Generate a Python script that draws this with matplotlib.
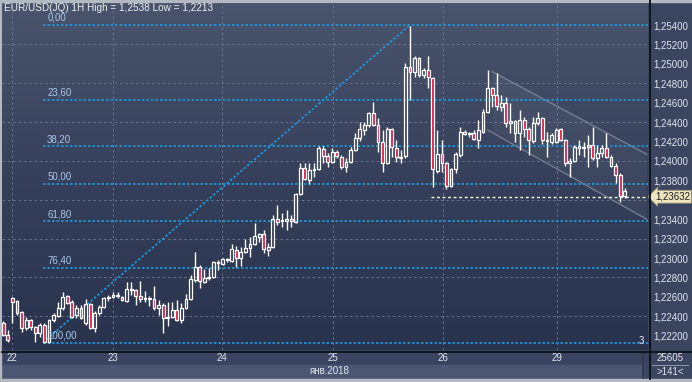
import matplotlib.pyplot as plt
import numpy as np
from matplotlib.colors import LinearSegmentedColormap
from matplotlib.patches import Rectangle
from matplotlib.lines import Line2D
from matplotlib.transforms import blended_transform_factory

# EUR/USD hourly candles, 22-29 Jan 2018
opens = [1.2233, 1.2221, 1.2259, 1.2256, 1.2244, 1.2228, 1.2236, 1.2229, 1.2223, 1.2231,
         1.2214, 1.2236, 1.2240, 1.2249, 1.2261, 1.2255, 1.2241, 1.2249, 1.2233, 1.2253,
         1.2228, 1.2243, 1.2250, 1.2259, 1.2260, 1.2261, 1.2260, 1.2256, 1.2267, 1.2267,
         1.2261, 1.2258, 1.2258, 1.2258, 1.2249, 1.2252, 1.2238, 1.2239, 1.2247, 1.2236,
         1.2249, 1.2258, 1.2277, 1.2291, 1.2275, 1.2279, 1.2280, 1.2296, 1.2294, 1.2299,
         1.2297, 1.2308, 1.2300, 1.2306, 1.2310, 1.2315, 1.2322, 1.2325, 1.2308, 1.2311,
         1.2340, 1.2338, 1.2338, 1.2340, 1.2337, 1.2366, 1.2393, 1.2380, 1.2391, 1.2392,
         1.2412, 1.2405, 1.2399, 1.2409, 1.2404, 1.2394, 1.2399, 1.2411, 1.2424, 1.2432,
         1.2437, 1.2449, 1.2437, 1.2420, 1.2398, 1.2433, 1.2413, 1.2404, 1.2405, 1.2497,
         1.2492, 1.2506, 1.2489, 1.2494, 1.2485, 1.2390, 1.2407, 1.2398, 1.2374, 1.2392,
         1.2406, 1.2430, 1.2428, 1.2429, 1.2422, 1.2430, 1.2450, 1.2475, 1.2468, 1.2456,
         1.2460, 1.2439, 1.2441, 1.2429, 1.2442, 1.2433, 1.2421, 1.2439, 1.2444, 1.2422,
         1.2420, 1.2420, 1.2433, 1.2422, 1.2398, 1.2400, 1.2415, 1.2413, 1.2414, 1.2416,
         1.2403, 1.2408, 1.2413, 1.2404, 1.2395, 1.2386, 1.2364]
highs = [1.2235, 1.2226, 1.2260, 1.2257, 1.2245, 1.2239, 1.2237, 1.2230, 1.2233, 1.2233,
         1.2237, 1.2243, 1.2255, 1.2265, 1.2262, 1.2257, 1.2252, 1.2252, 1.2258, 1.2254,
         1.2245, 1.2252, 1.2260, 1.2262, 1.2265, 1.2265, 1.2261, 1.2275, 1.2275, 1.2268,
         1.2276, 1.2266, 1.2261, 1.2271, 1.2257, 1.2254, 1.2255, 1.2255, 1.2257, 1.2254,
         1.2263, 1.2283, 1.2306, 1.2293, 1.2289, 1.2290, 1.2297, 1.2298, 1.2300, 1.2300,
         1.2315, 1.2312, 1.2311, 1.2320, 1.2322, 1.2336, 1.2326, 1.2329, 1.2316, 1.2344,
         1.2355, 1.2346, 1.2349, 1.2344, 1.2367, 1.2398, 1.2398, 1.2398, 1.2398, 1.2415,
         1.2415, 1.2408, 1.2413, 1.2411, 1.2406, 1.2403, 1.2414, 1.2429, 1.2440, 1.2440,
         1.2450, 1.2461, 1.2444, 1.2432, 1.2435, 1.2434, 1.2422, 1.2411, 1.2501, 1.2539,
         1.2508, 1.2507, 1.2496, 1.2508, 1.2486, 1.2432, 1.2422, 1.2399, 1.2393, 1.2409,
         1.2435, 1.2432, 1.2430, 1.2432, 1.2442, 1.2454, 1.2494, 1.2476, 1.2491, 1.2468,
         1.2466, 1.2460, 1.2442, 1.2452, 1.2445, 1.2435, 1.2445, 1.2450, 1.2445, 1.2430,
         1.2429, 1.2434, 1.2434, 1.2423, 1.2403, 1.2416, 1.2422, 1.2420, 1.2427, 1.2435,
         1.2416, 1.2416, 1.2429, 1.2406, 1.2398, 1.2388, 1.2372]
lows = [1.2220, 1.2214, 1.2233, 1.2241, 1.2224, 1.2226, 1.2226, 1.2214, 1.2219, 1.2213,
        1.2213, 1.2234, 1.2239, 1.2247, 1.2253, 1.2238, 1.2238, 1.2237, 1.2231, 1.2227,
        1.2224, 1.2241, 1.2249, 1.2256, 1.2259, 1.2259, 1.2256, 1.2255, 1.2262, 1.2252,
        1.2255, 1.2255, 1.2251, 1.2247, 1.2241, 1.2223, 1.2230, 1.2238, 1.2235, 1.2233,
        1.2248, 1.2257, 1.2275, 1.2269, 1.2274, 1.2277, 1.2279, 1.2288, 1.2293, 1.2296,
        1.2296, 1.2291, 1.2292, 1.2305, 1.2301, 1.2313, 1.2317, 1.2305, 1.2302, 1.2310,
        1.2334, 1.2332, 1.2329, 1.2332, 1.2336, 1.2365, 1.2380, 1.2376, 1.2383, 1.2391,
        1.2398, 1.2394, 1.2398, 1.2403, 1.2392, 1.2389, 1.2398, 1.2410, 1.2421, 1.2427,
        1.2435, 1.2436, 1.2409, 1.2389, 1.2397, 1.2404, 1.2399, 1.2398, 1.2403, 1.2463,
        1.2486, 1.2487, 1.2485, 1.2475, 1.2373, 1.2388, 1.2389, 1.2371, 1.2373, 1.2388,
        1.2404, 1.2427, 1.2425, 1.2422, 1.2413, 1.2429, 1.2449, 1.2456, 1.2453, 1.2451,
        1.2435, 1.2429, 1.2420, 1.2411, 1.2425, 1.2406, 1.2419, 1.2437, 1.2417, 1.2404,
        1.2418, 1.2419, 1.2421, 1.2395, 1.2383, 1.2399, 1.2406, 1.2404, 1.2394, 1.2401,
        1.2394, 1.2404, 1.2403, 1.2394, 1.2377, 1.2358, 1.2362]
closes = [1.2221, 1.2216, 1.2255, 1.2243, 1.2228, 1.2236, 1.2229, 1.2223, 1.2231, 1.2214,
          1.2236, 1.2241, 1.2249, 1.2260, 1.2254, 1.2239, 1.2249, 1.2238, 1.2253, 1.2228,
          1.2243, 1.2250, 1.2259, 1.2260, 1.2262, 1.2262, 1.2257, 1.2268, 1.2268, 1.2261,
          1.2258, 1.2259, 1.2259, 1.2249, 1.2252, 1.2238, 1.2239, 1.2247, 1.2236, 1.2249,
          1.2258, 1.2278, 1.2291, 1.2276, 1.2279, 1.2280, 1.2296, 1.2295, 1.2299, 1.2298,
          1.2309, 1.2300, 1.2306, 1.2310, 1.2315, 1.2323, 1.2325, 1.2309, 1.2311, 1.2340,
          1.2337, 1.2339, 1.2340, 1.2338, 1.2366, 1.2393, 1.2381, 1.2391, 1.2392, 1.2413,
          1.2405, 1.2399, 1.2409, 1.2405, 1.2394, 1.2399, 1.2411, 1.2424, 1.2433, 1.2437,
          1.2449, 1.2437, 1.2420, 1.2398, 1.2433, 1.2414, 1.2404, 1.2403, 1.2497, 1.2492,
          1.2506, 1.2489, 1.2494, 1.2486, 1.2392, 1.2407, 1.2398, 1.2374, 1.2392, 1.2407,
          1.2430, 1.2428, 1.2429, 1.2423, 1.2432, 1.2450, 1.2475, 1.2468, 1.2457, 1.2460,
          1.2439, 1.2441, 1.2429, 1.2442, 1.2433, 1.2422, 1.2439, 1.2444, 1.2422, 1.2421,
          1.2427, 1.2432, 1.2422, 1.2398, 1.2400, 1.2414, 1.2413, 1.2414, 1.2416, 1.2403,
          1.2408, 1.2413, 1.2404, 1.2395, 1.2386, 1.2364, 1.2369]

day_pos = [1.9, 24.0, 47.9, 72.1, 96.2, 121.2]
day_labels = ["22", "23", "24", "25", "26", "29"]
price_ticks = [1.222, 1.224, 1.226, 1.228, 1.230, 1.232, 1.234, 1.236, 1.238,
               1.240, 1.242, 1.244, 1.246, 1.248, 1.250, 1.252, 1.254]
hidden_tick = 1.236   # covered by the price tag on the scale

# fibonacci retracement, drawn from the bar-9 low to the bar-89 high
fib_ratios = [0.0, 0.236, 0.382, 0.5, 0.618, 0.764, 1.0]
fib_labels = ["0,00", "23,60", "38,20", "50,00", "61,80", "76,40", "100,00"]
fib_high, fib_low = 1.2540, 1.2213
fib_bar_low, fib_bar_high = 9, 89

# descending channel and the horizontal line
chan_upper = ([107, 140.8], [1.2492, 1.2407])
chan_lower = ([106, 140.8], [1.2432, 1.2340])
hline_start = 93.5
last_price = 1.23632

W, H = 692, 382
fig = plt.figure(figsize=(W / 100, H / 100), dpi=100, facecolor="#3b4560")
plt.rcParams["font.family"] = ["Liberation Sans", "DejaVu Sans"]

def fx(x):
    return x / W

def fy(y):
    return 1 - y / H

ax = fig.add_axes([fx(2), fy(350), (648 - 2) / W, (350 - 4) / H])
xmin, xmax = -0.28, 141.1
ymin, ymax = 1.22053, 1.25617
ax.set_xlim(xmin, xmax)
ax.set_ylim(ymin, ymax)

# background gradient
cmap = LinearSegmentedColormap.from_list("bg", ["#2a334e", "#36405a", "#4a546d"])
grad = np.linspace(0, 1, 256).reshape(-1, 1)
ax.imshow(grad, extent=[xmin, xmax, ymin, ymax], origin="lower", aspect="auto",
          cmap=cmap, zorder=0)

for s in ax.spines.values():
    s.set_visible(False)

# grid
for v in price_ticks[1::2]:
    ax.axhline(v, color="#6c7590", lw=0.7, ls=(0, (2.5, 3)), zorder=1)
for d in day_pos:
    ax.axvline(d, color="#6c7590", lw=0.7, ls=(0, (2.5, 3)), zorder=1)

# channel
ax.fill_between(chan_upper[0], chan_upper[1], chan_lower[1],
                color="white", alpha=0.04, lw=0, zorder=1)
ax.plot(*chan_upper, color="#8d95a8", lw=1.0, alpha=0.7, zorder=2)
ax.plot(*chan_lower, color="#8d95a8", lw=1.0, alpha=0.7, zorder=2)

# fibonacci
fib_color = "#1e9be0"
fib_x0 = fib_bar_low - 0.3
for r, lab in zip(fib_ratios, fib_labels):
    lvl = fib_high - r * (fib_high - fib_low)
    ax.plot([fib_x0, xmax], [lvl, lvl], color=fib_color, lw=1.2,
            ls=(0, (1.5, 1.2)), zorder=2)
    ax.annotate(lab, (fib_x0 + 0.9, lvl), xytext=(0, 1.5), textcoords="offset points",
                color="#a9c8e8", fontsize=7, va="bottom", ha="left", zorder=6)
ax.plot([fib_x0, fib_bar_high], [fib_low, fib_high], color=fib_color, lw=1.2,
        ls=(0, (1.5, 1.2)), zorder=2)

# candles
idx = np.arange(len(opens))
o = np.array(opens)
c = np.array(closes)
h = np.array(highs)
l = np.array(lows)
top = np.maximum(o, c)
bot = np.minimum(o, c)
ax.vlines(idx, top, h, color="white", lw=1.0, zorder=3)
ax.vlines(idx, l, bot, color="white", lw=1.0, zorder=3)
up = c >= o
body_h = np.maximum(top - bot, 0.00002)
ax.bar(idx[up], body_h[up], bottom=bot[up], width=0.62, facecolor="none",
       edgecolor="white", lw=0.9, zorder=4)
ax.bar(idx[~up], body_h[~up], bottom=bot[~up], width=0.62, facecolor="#e3163f",
       edgecolor="white", lw=0.9, zorder=4)

# horizontal price line
ax.plot([hline_start, xmax], [last_price, last_price], color="white", lw=1.0,
        ls=(0, (2, 2)), zorder=5)

# axes ticks
ax.yaxis.tick_right()
ax.set_yticks(price_ticks)
ax.set_yticklabels(["" if abs(v - hidden_tick) < 1e-9 else f"{v:.5f}".replace(".", ",")
                    for v in price_ticks])
ax.tick_params(axis="y", length=0, pad=4, labelsize=7, labelcolor="#e2e6ee")
ax.set_xticks(day_pos)
ax.set_xticklabels(day_labels)
ax.tick_params(axis="x", length=0, pad=2.5, labelsize=7, labelcolor="#e2e6ee")

trans = blended_transform_factory(ax.transData, ax.transAxes)
ax.text(71.5, -0.062, "янв.2018", transform=trans, fontsize=7, color="#e2e6ee",
        ha="center", va="center")
ax.text(0.994, 0.012, "3", transform=ax.transAxes, fontsize=7, color="#e2e6ee",
        ha="right", va="bottom")

# price tag on the scale
ax.annotate("1,23632", (1.0, last_price), xycoords=("axes fraction", "data"),
            xytext=(5, 0), textcoords="offset points", fontsize=7, color="#1c1c1c",
            va="center", ha="left", annotation_clip=False, zorder=10,
            bbox=dict(boxstyle="larrow,pad=0.15", fc="#ece5c0", ec="#9a9070", lw=0.6))

# title
fig.text(fx(4), fy(8), "EUR/USD(JQ) 1H High = 1,2538 Low = 1,2213", fontsize=7.2,
         color="#eef0f4", ha="left", va="center")

# bottom strip and frame
fig.patches.append(Rectangle((fx(2), fy(365)), fx(646), 13 / H, transform=fig.transFigure,
                             color="#3a4460", zorder=-1))
fig.patches.append(Rectangle((fx(2), fy(378)), fx(641), 13 / H, transform=fig.transFigure,
                             color="#4b5672", zorder=-1))
fig.lines.append(Line2D([fx(643), fx(643)], [fy(352), fy(378)], transform=fig.transFigure,
                        color="#2e3548", lw=1.2))
fig.lines.append(Line2D([fx(649.5), fx(649.5)], [fy(0), fy(379)], transform=fig.transFigure,
                        color="#0d1018", lw=1.3))
fig.lines.append(Line2D([fx(2), fx(692)], [fy(351.5), fy(351.5)], transform=fig.transFigure,
                        color="#0d1018", lw=1.3))
fig.lines.append(Line2D([fx(652), fx(688)], [fy(365), fy(365)], transform=fig.transFigure,
                        color="#8a92a4", lw=0.8))
fig.text(fx(670), fy(358), "25605", fontsize=7, color="#e2e6ee", ha="center", va="center")
fig.text(fx(670), fy(372), ">141<", fontsize=7, color="#e2e6ee", ha="center", va="center")

# outer light border
fig.patches.append(Rectangle((0, 0), 1, 3 / H, transform=fig.transFigure,
                             color="#b4b8c0", zorder=-1))
fig.patches.append(Rectangle((0, 0), 1.5 / W, 1, transform=fig.transFigure,
                             color="#b4b8c0", zorder=-1))
fig.patches.append(Rectangle((0, 1 - 1.5 / H), 1, 1.5 / H, transform=fig.transFigure,
                             color="#b4b8c0", zorder=-1))

fig.savefig("out.png", dpi=100, facecolor=fig.get_facecolor())
